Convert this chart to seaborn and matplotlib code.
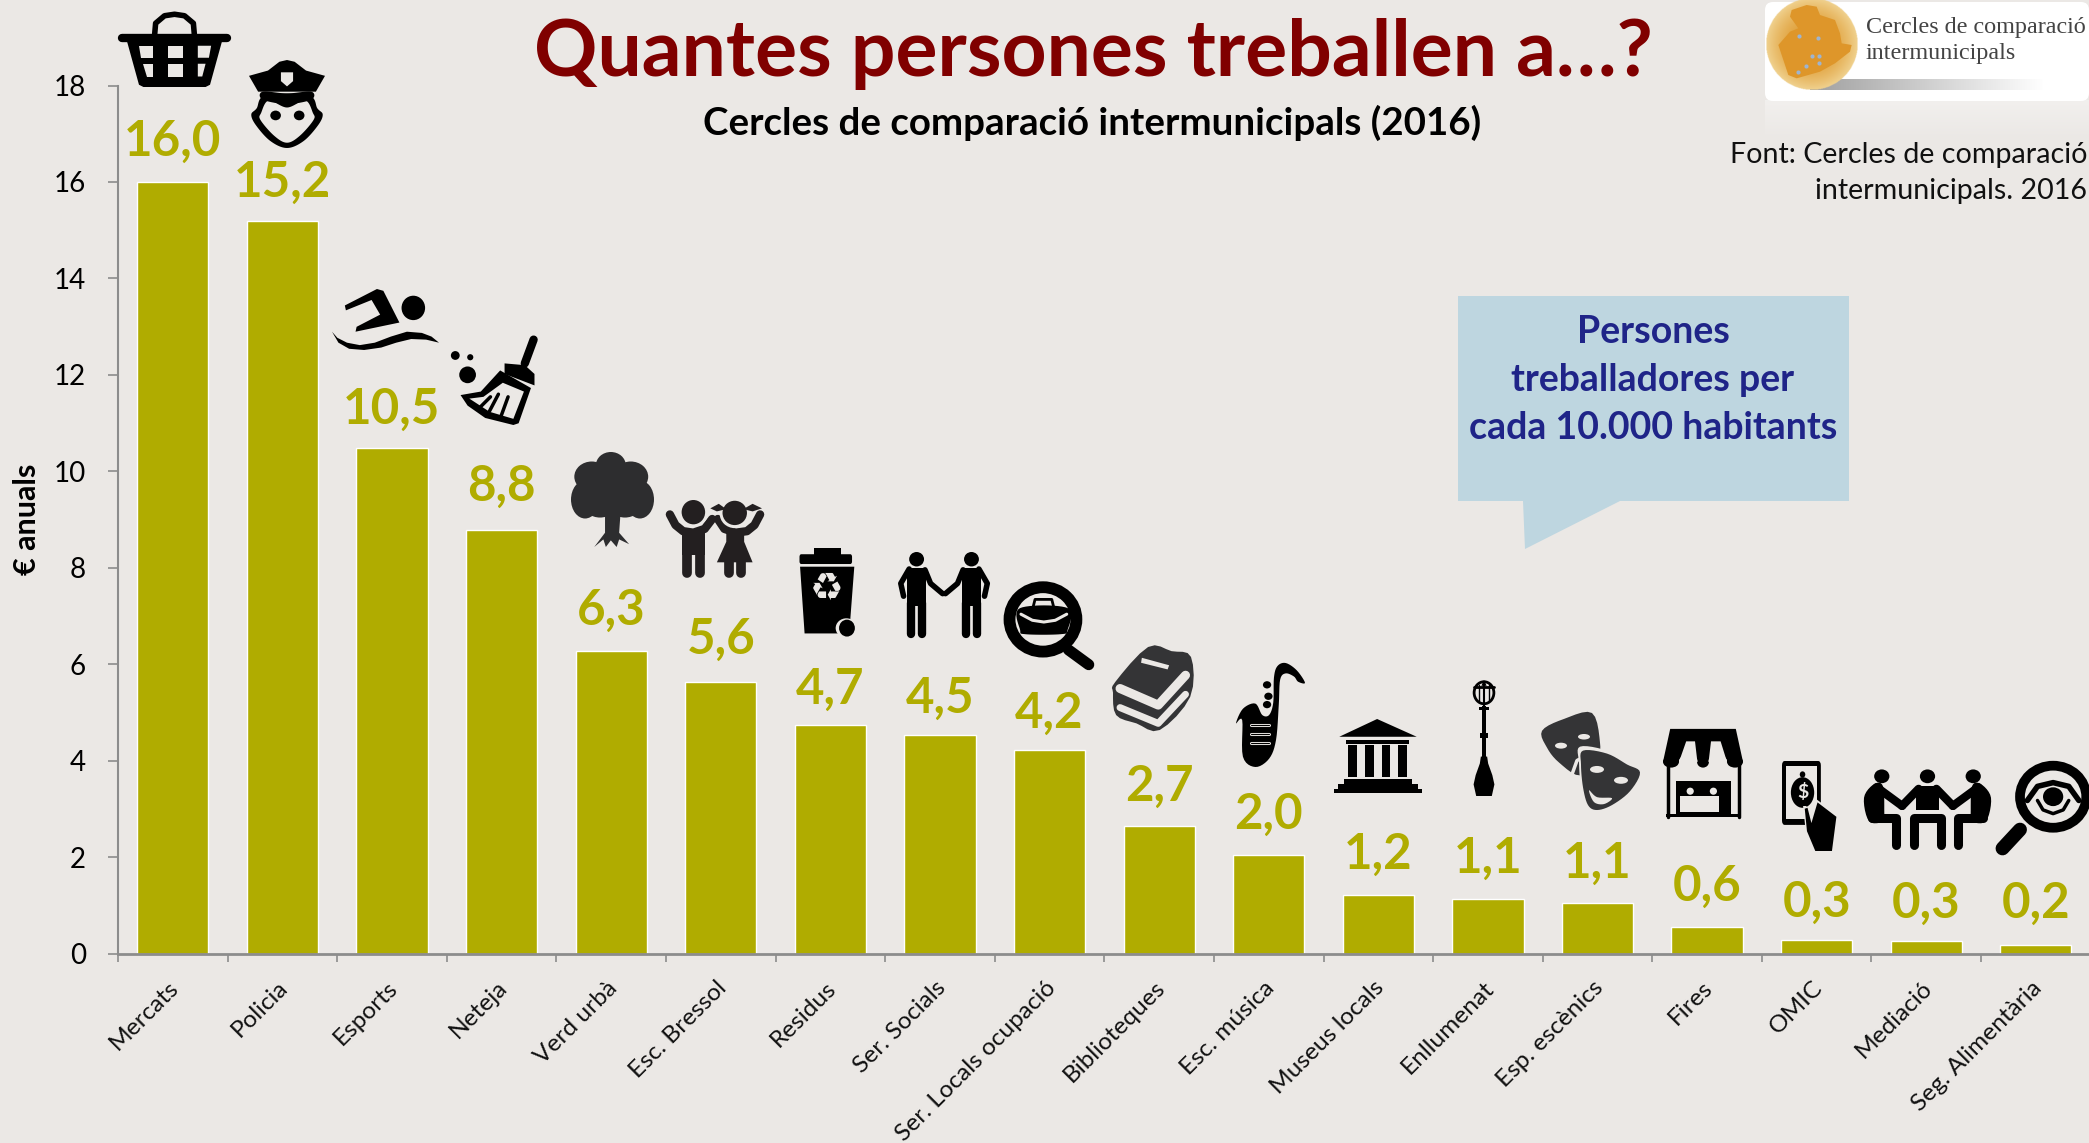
import numpy as np
import pandas as pd
import matplotlib
matplotlib.use("Agg")
import matplotlib.pyplot as plt
import seaborn as sns
from matplotlib.lines import Line2D
from matplotlib.patches import Ellipse, Polygon, Rectangle, FancyBboxPatch
from matplotlib.transforms import Affine2D, ScaledTranslation

serveis = ["Mercats", "Policia", "Esports", "Neteja", "Verd urbà", "Esc. Bressol", "Residus",
           "Ser. Socials", "Ser. Locals ocupació", "Biblioteques", "Esc. música", "Museus locals",
           "Enllumenat", "Esp. escènics", "Fires", "OMIC", "Mediació", "Seg. Alimentària"]
persones = [16.0, 15.18, 10.48, 8.79, 6.27, 5.64, 4.73, 4.53, 4.22, 2.65, 2.04, 1.22, 1.13, 1.05, 0.55, 0.28, 0.25, 0.17]
etiquetes = ["16,0", "15,2", "10,5", "8,8", "6,3", "5,6", "4,7", "4,5", "4,2", "2,7", "2,0", "1,2", "1,1", "1,1", "0,6", "0,3", "0,3", "0,2"]
y_ticks = [0, 2, 4, 6, 8, 10, 12, 14, 16, 18]
# ajust fi de cada etiqueta, en punts
ajust_etiquetes = [2, 1, 1, 4, 2, 3, -1, -1, -1, 1, 2, 2, 2, 1, 2, 0, 0, 3]

BG = "#EBE8E5"
BAR = "#B0AC00"
INK = "#000000"
DARK = "#343436"
GREY = "#8C8C8C"

sns.set_theme(style="ticks")
plt.rcParams["font.family"] = ["Lato", "DejaVu Sans"]

df = pd.DataFrame({"servei": serveis, "persones": persones})

fig = plt.figure(figsize=(20.89, 11.43), dpi=100, facecolor=BG)
ax = fig.add_axes([118 / 2089, 1 - 953.5 / 1143, 1971 / 2089, 868 / 1143], facecolor=BG)
sns.barplot(data=df, x="servei", y="persones", color=BAR, saturation=1, width=0.65, ax=ax)
ax.set_xlim(-0.5, 17.485)
ax.set_ylim(0, 18)
ax.set_yticks(y_ticks)
ax.tick_params(axis="y", labelsize=20, length=7, width=1.2, color=GREY, pad=16, labelcolor="black")
ax.set_xticks(range(len(serveis)))
ax.set_xticklabels(serveis, rotation=45, ha="right", rotation_mode="anchor", fontsize=17.6, color="#111111")
ax.tick_params(axis="x", which="major", length=0, pad=17)
for lab in ax.get_xticklabels():
    lab.set_transform(lab.get_transform() + ScaledTranslation(-5 / 100, 0, fig.dpi_scale_trans))
ax.set_xticks(np.arange(len(serveis)) - 0.5, minor=True)
ax.tick_params(axis="x", which="minor", length=6, width=1.2, color=GREY)
ax.set_xlabel("")
ax.set_ylabel("€ anuals", fontsize=22, fontweight="bold", color="black", labelpad=9)
sns.despine(ax=ax)
ax.spines["left"].set_color(GREY)
ax.spines["bottom"].set_color(GREY)
ax.spines["left"].set_linewidth(1.5)
ax.spines["bottom"].set_linewidth(2)
textos = ax.bar_label(ax.containers[0], labels=etiquetes, padding=11, color=BAR, fontsize=35.5, fontweight="bold")
for txt, extra in zip(textos, ajust_etiquetes):
    txt.xyann = (txt.xyann[0], txt.xyann[1] + extra)

# capa en pixels per a textos i icones
ov = fig.add_axes([0, 0, 1, 1], facecolor="none")
ov.set_xlim(0, 2089)
ov.set_ylim(1143, 0)
ov.axis("off")


def box(x0, y0, x1, y1):
    return Affine2D().scale((x1 - x0) / 100, (y1 - y0) / 100).translate(x0, y0) + ov.transData


def poly(t, pts, c=INK, z=5):
    ov.add_patch(Polygon(pts, closed=True, fc=c, ec="none", transform=t, zorder=z))


def smooth(pts, n=12):
    p = np.array(pts, dtype=float)
    out = []
    m = len(p)
    for i in range(m):
        p0, p1, p2, p3 = p[(i - 1) % m], p[i], p[(i + 1) % m], p[(i + 2) % m]
        for s in np.linspace(0, 1, n, endpoint=False):
            out.append(0.5 * (2 * p1 + (p2 - p0) * s + (2 * p0 - 5 * p1 + 4 * p2 - p3) * s ** 2
                              + (3 * p1 - p0 - 3 * p2 + p3) * s ** 3))
    return np.array(out)


def blob(t, pts, c=INK, z=5):
    poly(t, smooth(pts), c, z)


def oval(t, x, y, rx, ry, c=INK, z=5, edge=None, lw=0):
    ov.add_patch(Ellipse((x, y), 2 * rx, 2 * ry, fc=c if edge is None else "none",
                         ec=edge if edge else "none", lw=lw, transform=t, zorder=z))


def stroke(t, pts, lw, c=INK, z=5, cap="round"):
    xs, ys = zip(*pts)
    ov.add_line(Line2D(xs, ys, lw=lw, color=c, transform=t, zorder=z, solid_capstyle=cap, solid_joinstyle="round"))


def rect(t, x0, y0, x1, y1, c=INK, z=5):
    ov.add_patch(Rectangle((x0, y0), x1 - x0, y1 - y0, fc=c, ec="none", transform=t, zorder=z))


# cistella
t = box(119, 12, 230, 87)
stroke(t, [(32, 32), (33, 15), (41, 5), (50, 3), (59, 5), (67, 15), (68, 32)], 4)
stroke(t, [(3, 35), (97, 35)], 6)
poly(t, [(7, 38), (93, 38), (82, 97), (78, 100), (22, 100), (18, 97)])
for a, b in [(44, 58)]:
    rect(t, a, 45, b, 61, BG, 6)
    rect(t, a, 69, b, 86, BG, 6)
poly(t, [(18, 45), (31, 45), (31, 61), (20, 61)], BG, 6)
poly(t, [(22, 69), (31, 69), (31, 86), (25, 86)], BG, 6)
poly(t, [(71, 45), (83, 45), (81, 61), (71, 61)], BG, 6)
poly(t, [(71, 69), (78, 69), (75, 86), (71, 86)], BG, 6)

# policia
t = box(249, 60, 325, 148)
blob(t, [(22, 40), (10, 55), (3, 62), (9, 74), (28, 92), (50, 100), (72, 92), (91, 74), (97, 62), (90, 55), (78, 40)], INK)
blob(t, [(26, 46), (16, 60), (15, 68), (33, 86), (50, 94), (67, 86), (85, 68), (84, 60), (74, 46), (50, 54)], BG, 6)
poly(t, [(0, 18), (25, 12), (40, 2), (50, 0), (60, 2), (75, 12), (100, 18), (88, 36), (12, 36)], INK, 7)
blob(t, [(18, 36), (50, 38), (82, 36), (82, 45), (50, 50), (18, 45)], INK, 7)
poly(t, [(42, 14), (58, 14), (58, 24), (50, 30), (42, 24)], BG, 8)
oval(t, 35, 63, 7, 5.5, z=8)
oval(t, 66, 63, 7, 5.5, z=8)

# nedador
t = box(332, 289, 439, 350)
oval(t, 76, 31, 11, 20)
poly(t, [(12, 27), (42, 0), (48, 3), (63, 55), (22, 70), (23, 62), (45, 42), (37, 18), (13, 35)])
poly(t, [(0, 70), (5, 80), (14, 88), (26, 92), (40, 88), (55, 78), (70, 70), (84, 72), (93, 78), (100, 88), (88, 83), (74, 82), (60, 88), (46, 96), (30, 100), (16, 98), (6, 88)])

# escombra
t = box(450, 337, 538, 425)
stroke(t, [(95, 3), (85, 30)], 6)
poly(t, [(12, 66), (35, 62), (57, 38), (92, 58), (78, 98), (72, 100), (40, 92), (20, 78)])
poly(t, [(22, 70), (38, 68), (60, 52), (84, 62), (72, 93), (45, 85)], BG, 6)
stroke(t, [(55, 65), (45, 84)], 2.5, z=7)
stroke(t, [(66, 68), (58, 90)], 2.5, z=7)
stroke(t, [(46, 68), (34, 80)], 2.5, z=7)
poly(t, [(62, 30), (85, 32), (96, 42), (96, 55), (62, 42)], INK, 7)
oval(t, 6, 21, 5, 5)
oval(t, 23, 23, 3.5, 3.5)
oval(t, 20, 43, 9.5, 9.5)

# arbre
t = box(571, 452, 654, 547)
for x, y, rx, ry in [(48, 14, 18, 14), (25, 26, 21, 16), (72, 26, 21, 16), (17, 50, 17, 20), (83, 50, 17, 20), (50, 40, 36, 28), (35, 55, 20, 14), (65, 55, 20, 14)]:
    oval(t, x, y, rx, ry, "#2D2D2F")
poly(t, [(41, 60), (60, 60), (58, 85), (70, 97), (58, 92), (55, 100), (48, 93), (42, 100), (39, 92), (28, 100), (41, 85)], "#2D2D2F")

# nens
t = box(668, 500, 762, 576)
stroke(t, [(2, 19), (8, 33), (16, 41), (27, 43), (39, 38), (47, 25)], 6, "#231F20")
stroke(t, [(53, 25), (60, 38), (72, 43), (84, 41), (92, 33), (98, 19)], 6, "#231F20")
rect(t, 15, 40, 39, 72, "#231F20")
stroke(t, [(20, 68), (20, 96)], 7, "#231F20")
stroke(t, [(34, 68), (34, 96)], 7, "#231F20")
poly(t, [(62, 40), (81, 40), (81, 55), (90, 82), (52, 82), (62, 55)], "#231F20")
stroke(t, [(65, 80), (65, 96)], 7, "#231F20")
stroke(t, [(78, 80), (78, 96)], 7, "#231F20")
oval(t, 27, 16, 16, 19, BG, 6)
oval(t, 71, 18, 16, 19, BG, 6)
oval(t, 27, 16, 12.5, 16, "#231F20", 7)
oval(t, 71, 17, 13, 16, "#231F20", 7)
poly(t, [(45, 11), (54, 5), (62, 12), (52, 15)], "#231F20", 7)
poly(t, [(80, 12), (90, 5), (100, 11), (90, 15)], "#231F20", 7)

# contenidor
t = box(799.5, 548, 856, 637)
rect(t, 25, 0, 73, 9)
ov.add_patch(FancyBboxPatch((0, 7), 93, 11, boxstyle="round,pad=0,rounding_size=3", fc=INK, ec="none", transform=t, zorder=5))
poly(t, [(1, 21), (97, 21), (88, 96), (9, 96)])
oval(t, 83, 90, 19, 11, BG, 6)
oval(t, 84, 90, 14, 9.5, INK, 7)
ov.text(827, 590, "\u267b", family="DejaVu Sans", fontsize=27, color=BG, ha="center", va="center", zorder=7)

# dues persones
t = box(898, 552, 991, 637)
for cx, sg in [(20, 1), (79, -1)]:
    oval(t, cx, 8.5, 8, 8.5)
    rect(t, cx - 10, 19, cx + 10, 63)
    stroke(t, [(cx - 8 * sg, 20), (cx - 17 * sg, 37), (cx - 14 * sg, 52)], 4)
    stroke(t, [(cx + 9 * sg, 21), (cx + 15 * sg, 37), (cx + 28 * sg, 49)], 4)
    stroke(t, [(cx - 6, 60), (cx - 6, 97)], 6)
    stroke(t, [(cx + 6, 60), (cx + 6, 97)], 6)

# lupa i maleta
t = box(1006, 582, 1094, 669)
oval(t, 42, 43, 38, 37, edge=INK, lw=8.5)
stroke(t, [(71, 78), (94, 95)], 8)
stroke(t, [(72, 78), (80, 84)], 5)
poly(t, smooth([(16, 30), (70, 30), (70, 55), (62, 60), (22, 60), (16, 55)]), INK)
stroke(t, [(17, 37), (30, 44), (43, 46), (56, 44), (69, 37)], 2.2, BG, 6)
stroke(t, [(31, 28), (33, 20), (52, 20), (54, 28)], 2, INK)

# llibres
t = box(1113, 647, 1191, 730)
poly(t, smooth([(45, 0), (75, 5), (100, 12), (99, 60), (60, 100), (30, 92), (4, 82), (0, 55), (3, 42)], 4), DARK)
stroke(t, [(9, 50), (58, 70), (93, 34)], 6.5, BG, 6)
stroke(t, [(9, 73), (58, 92), (93, 57)], 5, BG, 6)
poly(t, [(37, 13), (72, 22), (70, 27), (36, 19)], BG, 6)

# saxo
t = box(1236, 663, 1305, 767)
poly(t, smooth([(100, 19), (88, 7), (72, 0), (60, 3), (55, 14), (54, 38), (48, 50), (38, 50), (28, 39), (10, 44), (0, 58), (9, 55), (10, 90), (28, 100), (48, 92), (58, 74), (62, 40), (64, 16), (72, 10), (84, 13), (90, 18)], 6))
for x, y in [(45, 21), (47, 32), (45, 40)]:
    oval(t, x, y, 6, 3.5)
for y in [60, 68, 77]:
    stroke(t, [(22, y), (48, y)], 2.2, BG, 6)
    stroke(t, [(22, y), (48, y)], 0.8, INK, 7)

# museu
t = box(1334, 719, 1422, 793)
poly(t, [(6, 24), (49, 0), (94, 24)])
rect(t, 14, 28, 85, 34)
for a in [16, 35, 54, 73]:
    rect(t, a, 35, a + 10, 79)
rect(t, 11, 81, 89, 88)
rect(t, 5, 88, 95, 94)
rect(t, 0, 95, 100, 100)

# fanal
t = box(1471, 680, 1497, 796)
oval(t, 50, 11, 38, 9.5, edge=INK, lw=2)
stroke(t, [(12, 6), (88, 6)], 2)
poly(t, [(40, 5), (50, 0), (60, 5)])
stroke(t, [(50, 2), (50, 24)], 1.5)
stroke(t, [(30, 4), (30, 18)], 1)
stroke(t, [(70, 4), (70, 18)], 1)
rect(t, 44, 22, 56, 68)
rect(t, 32, 23, 68, 26)
rect(t, 36, 46, 64, 50)
poly(t, [(38, 66), (62, 66), (66, 72), (82, 82), (90, 90), (80, 100), (20, 100), (10, 90), (18, 82), (34, 72)])

# mascares
t = box(1542, 713, 1642, 812)
poly(t, smooth([(0, 18), (22, 6), (50, 0), (58, 30), (55, 45), (38, 63), (17, 50), (5, 35)], 5), DARK)
oval(t, 42, 24, 6, 2.8, BG, 6)
oval(t, 19, 33, 6, 3, BG, 6)
stroke(t, [(30, 62), (35, 48), (46, 42)], 2.5, BG, 6)
poly(t, smooth([(38, 34), (65, 38), (85, 50), (100, 60), (90, 80), (70, 95), (55, 100), (45, 95), (39, 75), (37, 50)], 6), BG, 7)
poly(t, smooth([(41, 38), (65, 41), (85, 52), (98, 60), (88, 79), (70, 93), (55, 98), (46, 93), (41, 75), (39, 52)], 6), DARK, 8)
oval(t, 55, 57, 7, 3.5, BG, 9)
oval(t, 79, 68, 7, 3.5, BG, 9)
poly(t, smooth([(47, 78), (55, 85), (70, 86), (62, 92), (52, 90)], 6), BG, 9)

# botiga
t = box(1663, 728, 1743, 817)
stroke(t, [(6, 38), (6, 100)], 2.5)
stroke(t, [(95, 38), (95, 100)], 2.5)
rect(t, 4, 97, 97, 100)
poly(t, [(9, 1), (91, 1), (100, 38), (0, 38)])
for x, rx in [(10, 10), (50, 7.5), (90, 10)]:
    oval(t, x, 38, rx, 6.5)
poly(t, [(29, 15), (40, 15), (43, 38), (20, 38)], BG, 6)
poly(t, [(60, 15), (72, 15), (80, 38), (57, 38)], BG, 6)
oval(t, 31.5, 37, 11.5, 6.5, BG, 6)
oval(t, 68.5, 37, 11.5, 6.5, BG, 6)
rect(t, 16, 59, 85, 98)
rect(t, 21, 76, 70, 94, BG, 6)
for x in [34, 63]:
    oval(t, x, 71, 4.5, 4, BG, 6)

# telefon
t = box(1782, 761, 1837.5, 851)
ov.add_patch(FancyBboxPatch((0, 0), 70, 71, boxstyle="round,pad=0,rounding_size=5", fc=INK, ec="none", transform=t, zorder=5))
rect(t, 8, 6, 63, 64, BG, 6)
oval(t, 37, 35, 21, 17, INK, 7)
oval(t, 37, 15, 5, 3.5, INK, 7)
ov.text(1803, 792, "$", fontsize=14, fontweight="bold", color=BG, ha="center", va="center", zorder=8)
poly(t, [(38, 50), (44, 50), (50, 64), (61, 42), (100, 60), (92, 100), (58, 100), (43, 80)], BG, 8)
poly(t, [(41, 53), (46, 52), (53, 69), (64, 46), (98, 62), (90, 100), (60, 100), (45, 78)], INK, 9)

# reunio
t = box(1864, 767, 1991, 848)
for x in [14, 50, 86]:
    oval(t, x, 11.5, 6, 8.5)
poly(t, smooth([(0, 38), (8, 21), (15, 24), (16, 58), (16, 67), (4, 67)], 6))
poly(t, smooth([(100, 38), (92, 21), (85, 24), (84, 58), (84, 67), (96, 67)], 6))
poly(t, [(41, 24), (59, 24), (59, 53), (41, 53)])
stroke(t, [(10, 25), (30, 48)], 6)
stroke(t, [(90, 25), (70, 48)], 6)
stroke(t, [(43, 27), (30, 48)], 6)
stroke(t, [(57, 27), (70, 48)], 6)
stroke(t, [(6, 63), (25, 63), (25, 96)], 6.5)
stroke(t, [(94, 63), (74, 63), (74, 96)], 6.5)
stroke(t, [(39, 96), (39, 63), (61, 63), (61, 96)], 6.5)

# lupa i ull
t = box(1997, 761, 2089, 855)
oval(t, 61, 38, 36, 33, edge=INK, lw=7)
stroke(t, [(25, 73), (6, 93)], 10)
stroke(t, [(33, 42), (44, 27), (61, 23), (78, 27), (89, 42)], 4)
oval(t, 61, 38, 11, 10)
stroke(t, [(44, 42), (50, 52), (61, 56), (72, 52), (78, 42)], 2.5)

# titols
ov.text(1093.5, 76, "Quantes persones treballen a…?", fontsize=56.6, fontweight="bold", color="#800000", ha="center", va="baseline")
ov.text(1092, 135, "Cercles de comparació intermunicipals (2016)", fontsize=27.7, fontweight="bold", color="black", ha="center", va="baseline")
ov.text(2087, 155, "Font: Cercles de comparació", fontsize=20.6, color="#111111", ha="right", va="center")
ov.text(2087, 191, "intermunicipals. 2016", fontsize=20.6, color="#111111", ha="right", va="center")

# globus de text
poly(ov.transData, [(1458, 296), (1849, 296), (1849, 501), (1620, 501), (1525, 549), (1523, 501), (1458, 501)], "#BED6E0", 3)
for y, s in [(332, "Persones"), (380, "treballadores per"), (428, "cada 10.000 habitants")]:
    ov.text(1653, y, s, fontsize=27, fontweight="bold", color="#1F2488", ha="center", va="center", zorder=4)

# logo
refl = np.zeros((40, 2, 4))
refl[..., :3] = 1
refl[:, :, 3] = np.linspace(0.35, 0, 40)[:, None]
ov.imshow(refl, extent=(1765, 2089, 140, 100), aspect="auto", zorder=2)
ov.add_patch(FancyBboxPatch((1765, 2), 324, 99, boxstyle="round,pad=0,rounding_size=8", fc="white", ec="none", zorder=3))
shadow = np.zeros((2, 240, 4))
shadow[..., :3] = 0.5
shadow[:, :, 3] = np.linspace(0.75, 0, 240)[None, :]
ov.imshow(shadow, extent=(1810, 2045, 90, 79), aspect="auto", zorder=4)
yy, xx = np.mgrid[-1:1:200j, -1:1:200j]
rr = np.hypot(xx, yy)
ball = np.zeros((200, 200, 4))
ball[..., 0] = 0.87 + 0.07 * np.clip(rr, 0, 1) ** 2
ball[..., 1] = 0.60 + 0.22 * np.clip(rr, 0, 1) ** 2
ball[..., 2] = 0.18 + 0.38 * np.clip(rr, 0, 1) ** 2
ball[..., 3] = (rr <= 1).astype(float)
ov.imshow(ball, extent=(1766, 1858, 90, -2), aspect="auto", zorder=5, interpolation="bilinear")
t = Affine2D().scale(1 / 3).translate(1650, 0) + ov.transData
poly(t, [(425, 30), (470, 15), (500, 20), (510, 45), (555, 60), (570, 100), (575, 130), (605, 135), (600, 155), (555, 190), (510, 215), (440, 235), (415, 225), (400, 180), (385, 135), (420, 95), (445, 85), (420, 50)], "#DE962A", 6)
ov.scatter([1650 + a / 3 for a in (447, 503, 486, 508, 508, 469, 443)], [a / 3 for a in (108, 113, 168, 168, 188, 198, 215)], s=9, color="#9DB4D0", zorder=7, linewidths=0)
ov.text(1866, 28, "Cercles de comparació", family="Liberation Serif", fontsize=17.4, color="#444444", va="center", zorder=6)
ov.text(1866, 54, "intermunicipals", family="Liberation Serif", fontsize=17.4, color="#444444", va="center", zorder=6)
ov.set_xlim(0, 2089)
ov.set_ylim(1143, 0)

fig.savefig("out.png", dpi=100, facecolor=BG)
